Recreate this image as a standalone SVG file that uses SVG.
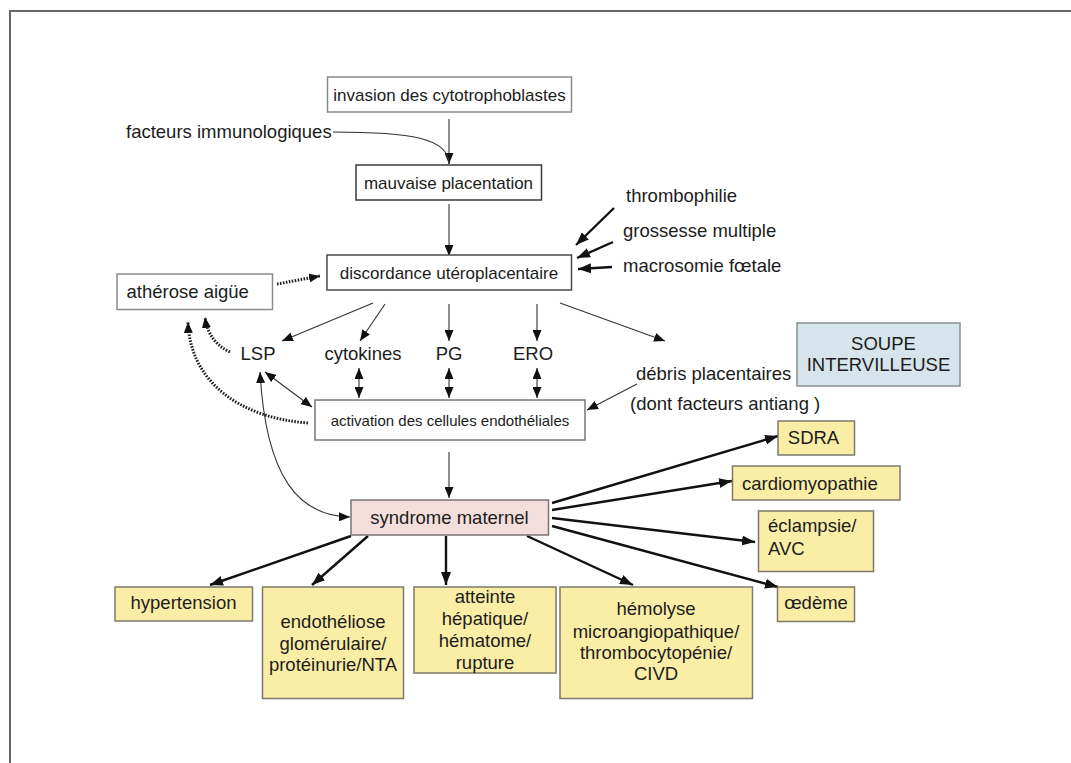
<svg xmlns="http://www.w3.org/2000/svg" width="1071" height="763" viewBox="0 0 1071 763">
<style>
text{font-family:"Liberation Sans",Arial,sans-serif;fill:#1c1c1c}
.t17{font-size:17px}
.t15{font-size:15px}
.t18{font-size:18.5px}
.c{text-anchor:middle}
.bw{fill:#fff;stroke:#8a8a8a;stroke-width:1.5}
.bd{fill:#fff;stroke:#3a3a3a;stroke-width:1.5}
.by{fill:#faeda6;stroke:#7d7a6a;stroke-width:1.5}
.bb{fill:#d6e4eb;stroke:#8a8e90;stroke-width:1.5}
.bp{fill:#f3dedc;stroke:#7a7474;stroke-width:1.5}
.thin{fill:none;stroke:#333;stroke-width:1.1}
.thick{fill:none;stroke:#111;stroke-width:2.4}
.dot{fill:none;stroke:#222;stroke-width:3;stroke-dasharray:1.6 1.4}
</style>
<defs>
<marker id="a" markerUnits="userSpaceOnUse" markerWidth="11" markerHeight="9" refX="11" refY="4.5" orient="auto-start-reverse"><path d="M0,0 L11,4.5 L0,9 z" fill="#111"/></marker>
<marker id="b" markerUnits="userSpaceOnUse" markerWidth="13" markerHeight="10" refX="13" refY="5" orient="auto-start-reverse"><path d="M0,0 L13,5 L0,10 z" fill="#111"/></marker>
</defs>
<rect width="1071" height="763" fill="#fff"/>
<path d="M10,763 V11 H1071" fill="none" stroke="#666" stroke-width="2"/>

<g id="connectors">
<path class="thin" d="M449,119 V164" marker-end="url(#a)"/>
<path class="thin" d="M333,132 C410,132 449,138 449,164"/>
<path class="thin" d="M449,204 V256" marker-end="url(#a)"/>
<path class="thick" d="M614,208 L576,245" marker-end="url(#b)"/>
<path class="thick" d="M613,242 L577,258" marker-end="url(#b)"/>
<path class="thick" d="M612,267 L578,269" marker-end="url(#b)"/>
<path class="dot" d="M277,284 L320,276" marker-end="url(#a)"/>
<path class="thin" d="M373,303 L282,341" marker-end="url(#a)"/>
<path class="thin" d="M385,304 L360,341" marker-end="url(#a)"/>
<path class="thin" d="M449,304 V341" marker-end="url(#a)"/>
<path class="thin" d="M537,304 V341" marker-end="url(#a)"/>
<path class="thin" d="M560,303 L665,341" marker-end="url(#a)"/>
<path class="thin" d="M265,372 L312,407" marker-start="url(#a)" marker-end="url(#a)"/>
<path class="thin" d="M359,368 V398" marker-start="url(#a)" marker-end="url(#a)"/>
<path class="thin" d="M449,368 V398" marker-start="url(#a)" marker-end="url(#a)"/>
<path class="thin" d="M537,368 V398" marker-start="url(#a)" marker-end="url(#a)"/>
<path class="thin" d="M637,384 L587,410" marker-end="url(#a)"/>
<path class="dot" d="M230,352 C215,345 207,333 205,317" marker-end="url(#a)"/>
<path class="dot" d="M308,423 C240,418 190,382 188,322" marker-end="url(#a)"/>
<path class="thin" d="M449,452 V498" marker-end="url(#a)"/>
<path class="thin" d="M260,372 C266,480 300,516 350,517" marker-start="url(#a)" marker-end="url(#a)"/>
<path class="thick" d="M552,503 L778,436" marker-end="url(#b)"/>
<path class="thick" d="M552,510 L732,481" marker-end="url(#b)"/>
<path class="thick" d="M552,518 L755,542" marker-end="url(#b)"/>
<path class="thick" d="M552,526 L778,587" marker-end="url(#b)"/>
<path class="thick" d="M527,536 L633,585" marker-end="url(#b)"/>
<path class="thick" d="M446,536 V585" marker-end="url(#b)"/>
<path class="thick" d="M368,536 L312,585" marker-end="url(#b)"/>
<path class="thick" d="M351,536 L210,585" marker-end="url(#b)"/>
</g>

<g id="invasion"><rect class="bw" x="327.5" y="77" width="244" height="35"/><text class="t17 c" x="449.5" y="100.5">invasion des cytotrophoblastes</text></g>
<g id="facteurs"><text class="t18" x="126" y="138">facteurs immunologiques</text></g>
<g id="mauvaise"><rect class="bd" x="356" y="165" width="185.5" height="35"/><text class="t17 c" x="448.5" y="188.5">mauvaise placentation</text></g>
<g id="thrombophilie"><text class="t18" x="626" y="201.5">thrombophilie</text></g>
<g id="grossesse"><text class="t18" x="623" y="237">grossesse multiple</text></g>
<g id="macrosomie"><text class="t18" x="623" y="272">macrosomie fœtale</text></g>
<g id="discordance"><rect class="bd" x="327" y="255" width="244.5" height="35" style="stroke:#4a4a4a"/><text class="t17 c" x="449" y="278.5">discordance utéroplacentaire</text></g>
<g id="atherose"><rect class="bw" x="117" y="274" width="155.5" height="35.5"/><text class="t18" x="126.5" y="298">athérose aigüe</text></g>
<g id="lsp"><text class="t18 c" x="258" y="360">LSP</text></g>
<g id="cytokines"><text class="t18 c" x="363" y="360">cytokines</text></g>
<g id="pg"><text class="t18 c" x="449" y="360">PG</text></g>
<g id="ero"><text class="t18 c" x="533" y="360">ERO</text></g>
<g id="debris"><text class="t18" x="636" y="380">débris placentaires</text><text class="t18" x="630" y="410">(dont facteurs antiang )</text></g>
<g id="soupe"><rect class="bb" x="797" y="323" width="163" height="63"/><text class="t18 c" x="883.5" y="350">SOUPE</text><text class="t18 c" x="878.5" y="370.5">INTERVILLEUSE</text></g>
<g id="activation"><rect class="bw" x="315" y="400" width="270" height="40" style="stroke:#777"/><text class="t15 c" x="450" y="426">activation des cellules endothéliales</text></g>
<g id="syndrome"><rect class="bp" x="351" y="500" width="197.5" height="35"/><text class="t18 c" x="449.5" y="523.5">syndrome maternel</text></g>
<g id="sdra"><rect class="by" x="778" y="421" width="76.5" height="34"/><text class="t18 c" x="813.5" y="443.5">SDRA</text></g>
<g id="cardio"><rect class="by" x="732.5" y="466" width="167.5" height="34"/><text class="t18" x="742" y="489.5">cardiomyopathie</text></g>
<g id="eclampsie"><rect class="by" x="758.5" y="511" width="115" height="60.5"/><text class="t18" x="768" y="532">éclampsie/</text><text class="t18" x="768" y="555">AVC</text></g>
<g id="oedeme"><rect class="by" x="777.5" y="587" width="77" height="34.5"/><text class="t18 c" x="816" y="608.5">œdème</text></g>
<g id="hypertension"><rect class="by" x="115" y="587" width="137.5" height="34"/><text class="t18 c" x="183.5" y="608.5">hypertension</text></g>
<g id="endotheliose"><rect class="by" x="262.5" y="587" width="141" height="111.5"/><text class="t18 c" x="333" y="627.5">endothéliose</text><text class="t18 c" x="333" y="650">glomérulaire/</text><text class="t18 c" x="333" y="671">protéinurie/NTA</text></g>
<g id="atteinte"><rect class="by" x="414" y="587" width="142" height="86"/><text class="t18 c" x="485" y="603">atteinte</text><text class="t18 c" x="485" y="625">hépatique/</text><text class="t18 c" x="485" y="647">hématome/</text><text class="t18 c" x="485" y="668.5">rupture</text></g>
<g id="hemolyse"><rect class="by" x="560" y="587" width="192.5" height="111.5"/><text class="t18 c" x="656" y="615">hémolyse</text><text class="t18 c" x="656" y="637.5">microangiopathique/</text><text class="t18 c" x="656" y="658.5">thrombocytopénie/</text><text class="t18 c" x="656" y="680">CIVD</text></g>
</svg>
